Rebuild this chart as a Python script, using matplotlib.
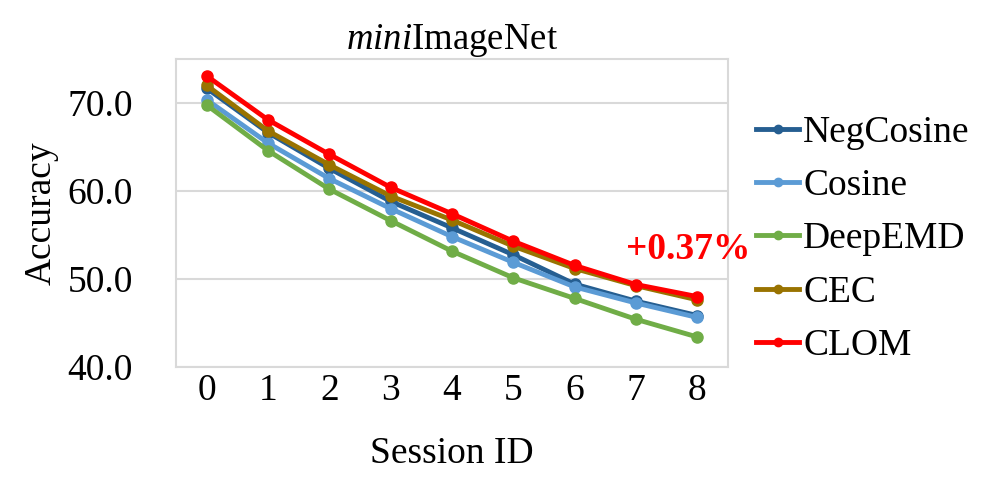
import matplotlib.pyplot as plt

plt.rcParams['font.family'] = ['Liberation Serif', 'DejaVu Serif']
plt.rcParams['mathtext.fontset'] = 'custom'
plt.rcParams['mathtext.it'] = 'Liberation Serif:italic'
plt.rcParams['mathtext.rm'] = 'Liberation Serif'

sessions = [0, 1, 2, 3, 4, 5, 6, 7, 8]
negcosine = [71.68, 66.64, 62.57, 58.82, 55.81, 52.75, 49.42, 47.48, 45.85]
cosine = [70.37, 65.45, 61.41, 58.00, 54.81, 51.89, 49.10, 47.27, 45.63]
deepemd = [69.77, 64.59, 60.21, 56.63, 53.16, 50.13, 47.79, 45.42, 43.41]
cec = [72.00, 66.83, 62.97, 59.43, 56.70, 53.73, 51.19, 49.24, 47.63]
clom = [73.08, 68.09, 64.16, 60.41, 57.41, 54.29, 51.54, 49.37, 48.00]

series = [("NegCosine", negcosine, "#255e91"),
          ("Cosine", cosine, "#5b9bd5"),
          ("DeepEMD", deepemd, "#70ad47"),
          ("CEC", cec, "#997300"),
          ("CLOM", clom, "#ff0000")]

fig = plt.figure(figsize=(9.89, 4.99), dpi=100)
ax = fig.add_axes([176/989, 1 - 367/499, (728-176)/989, (367-59)/499])

for name, vals, col in series:
    ax.plot(sessions, vals, color=col, lw=3.5, marker='o', ms=8, label=name)

ax.text(7.85, 53.3, "+0.37%", color='#ff0000', fontsize=27, fontweight='bold',
        ha='center', va='center')

ax.set_xlim(-0.5, 8.5)
ax.set_ylim(40, 75)
ax.set_yticks([40, 50, 60, 70])
ax.set_yticklabels(["40.0", "50.0", "60.0", "70.0"])
ax.set_xticks(sessions)
ax.grid(axis='y', color='#d9d9d9', lw=1.5)
ax.set_axisbelow(True)
for s in ax.spines.values():
    s.set_color('#d9d9d9')
    s.set_linewidth(1.5)
ax.tick_params(length=0, labelsize=27)
ax.tick_params(axis='y', pad=31)
ax.tick_params(axis='x', pad=5)

ax.set_xlabel("Session ID", fontsize=27, labelpad=20)
ax.set_ylabel("Accuracy", fontsize=27, labelpad=6)
ax.set_title(r"$\mathit{mini}$ImageNet", fontsize=26.5, pad=6)

ax.legend(loc='center left', bbox_to_anchor=(0.99, 0.415), frameon=False,
          fontsize=27, handlelength=1.15, handletextpad=0.1, labelspacing=0.5,
          markerscale=0.75)

fig.savefig("out.png", dpi=100)
